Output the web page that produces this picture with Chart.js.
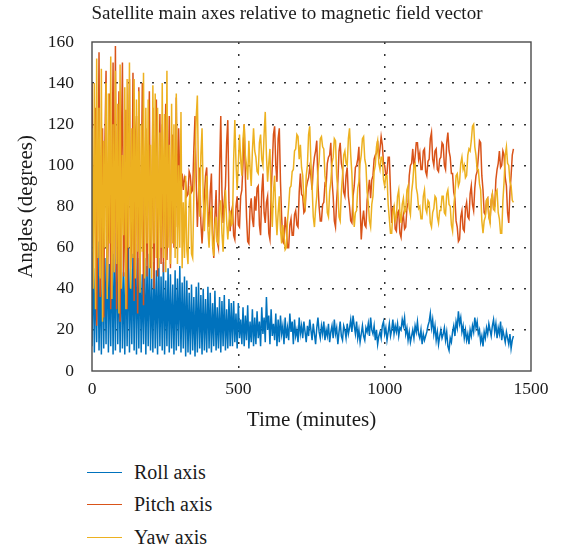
<!DOCTYPE html>
<html>
<head>
<meta charset="utf-8">
<script src="https://cdn.jsdelivr.net/npm/chart.js@4"></script>
<style>
    body { margin: 0; background: #fff; font-family: "Liberation Serif", serif; color: #1a1a1a; }
    #wrap { position: relative; width: 565px; height: 548px; }
    #chartBox { position: absolute; left: 0; top: 0; width: 565px; height: 440px; }
    #legend { position: absolute; left: 87px; top: 456px; font-size: 20px; }
    .row { height: 32.5px; display: flex; align-items: center; }
    .swatch { width: 35px; height: 0; border-top: 1.6px solid; margin-right: 12px; }
</style>
</head>
<body>
<div id="wrap">
    <div id="chartBox"><canvas id="satChart"></canvas></div>
    <div id="legend"></div>
</div>
<script>
// ===============================
// Satellite axes vs magnetic field
// ===============================

// ---------- Data (one sample every 4 minutes, 0 .. 1440) ----------

const sampleStep = 4;

const seriesNames = ["Roll axis", "Pitch axis", "Yaw axis"];
const seriesColors = ["#0072bd", "#d95319", "#edb120"];

const rollAxis = [
    12, 58, 9, 50, 14, 63, 10, 46, 8, 60, 11, 55, 13, 66, 9, 52, 12, 62, 8, 57,
    10, 67, 13, 54, 9, 61, 11, 48, 8, 59, 12, 64, 9, 50, 13, 57, 10, 62, 8, 55,
    11, 58, 9, 47, 13, 55, 8, 51, 12, 57, 10, 45, 9, 53, 11, 49, 8, 55, 12, 46,
    10, 53, 8, 44, 12, 50, 9, 47, 11, 42, 8, 49, 10, 45, 12, 51, 9, 43, 11, 46,
    7, 44, 9, 38, 8, 42, 10, 36, 7, 41, 9, 43, 11, 37, 8, 40, 10, 35, 9, 41,
    11, 38, 9, 33, 12, 39, 10, 31, 11, 36, 9, 34, 12, 37, 10, 30, 11, 35, 12, 33,
    12, 34, 14, 28, 11, 33, 16, 25, 13, 31, 12, 27, 15, 32, 11, 24, 14, 30, 12, 26,
    13, 29, 16, 24, 12, 31, 18, 26, 14, 36, 20, 27, 13, 30, 17, 23, 15, 28, 12, 25,
    14, 27, 18, 22, 13, 26, 16, 21, 15, 28, 19, 24, 13, 25, 17, 20, 14, 26, 18, 22,
    16, 24, 19, 14, 22, 17, 25, 20, 15, 23, 18, 13, 21, 26, 19, 16, 22, 18, 24, 15,
    20, 17, 23, 14, 19, 22, 16, 25, 18, 21, 13, 19, 24, 17, 15, 22, 20, 16, 23, 18,
    21, 25, 19, 27, 22, 18, 24, 16, 20, 14, 18, 22, 17, 15, 21, 19, 23, 17, 26, 20,
    18, 22, 15, 20, 13, 17, 19, 16, 22, 24, 18, 21, 15, 19, 23, 17, 20, 25, 18, 22,
    19, 23, 17, 21, 20, 25, 22, 26, 18, 21, 15, 19, 14, 17, 20, 16, 22, 19, 24, 18,
    16, 20, 13, 18, 15, 17, 19, 22, 24, 28, 21, 25, 18, 22, 15, 19, 13, 17, 20, 16,
    18, 21, 15, 19, 12, 10, 16, 14, 19, 22, 17, 24, 21, 29, 23, 26, 19, 22, 16, 20,
    15, 18, 13, 20, 17, 22, 19, 26, 21, 24, 18, 20, 14, 17, 12, 19, 16, 21, 18, 23,
    20, 17, 22, 25, 19, 23, 16, 21, 18, 24, 15, 20, 17, 14, 19, 16, 13, 18, 11, 15,
    17
];

const pitchAxis = [
    140, 62, 95, 128, 22, 80, 155, 36, 60, 118, 26, 110, 146, 40, 70, 135, 30, 92, 150, 48,
    158, 30, 88, 136, 24, 105, 150, 46, 72, 127, 30, 98, 142, 50, 66, 145, 34, 112, 124, 28,
    138, 44, 85, 140, 32, 76, 118, 46, 94, 136, 50, 70, 128, 40, 102, 132, 46, 80, 125, 52,
    120, 48, 96, 130, 54, 78, 124, 50, 88, 115, 60, 82, 133, 70, 118, 92, 86, 96, 88, 94,
    92, 85, 86, 97, 95, 87, 88, 108, 124, 93, 70, 85, 99, 72, 62, 73, 85, 95, 99, 77,
    70, 87, 96, 67, 55, 75, 88, 63, 60, 98, 124, 87, 72, 83, 90, 111, 122, 82, 68, 77,
    80, 66, 64, 80, 85, 71, 70, 85, 88, 101, 120, 95, 75, 63, 62, 79, 84, 74, 70, 85,
    78, 89, 90, 71, 66, 87, 96, 77, 72, 82, 85, 67, 64, 86, 100, 115, 119, 100, 92, 113,
    118, 92, 75, 63, 62, 75, 70, 60, 60, 71, 74, 66, 66, 76, 78, 71, 70, 87, 96, 86,
    85, 77, 78, 89, 92, 94, 99, 95, 88, 99, 104, 107, 112, 91, 80, 73, 73, 81, 82, 91,
    90, 101, 104, 105, 111, 93, 85, 73, 70, 83, 92, 107, 111, 101, 98, 87, 85, 95, 99, 85,
    80, 73, 72, 85, 90, 99, 100, 103, 109, 81, 64, 73, 78, 71, 70, 83, 88, 93, 84, 93,
    95, 103, 105, 106, 112, 103, 108, 114, 110, 101, 100, 95, 96, 104, 104, 87, 72, 79, 80, 69,
    68, 77, 78, 67, 65, 73, 76, 69, 70, 79, 82, 95, 100, 101, 108, 99, 104, 111, 111, 103,
    106, 98, 98, 107, 108, 97, 95, 102, 103, 113, 116, 103, 100, 107, 108, 98, 97, 103, 104, 111,
    110, 100, 98, 111, 116, 107, 104, 96, 96, 87, 84, 73, 70, 63, 64, 75, 78, 69, 68, 79,
    82, 75, 74, 86, 90, 81, 78, 89, 95, 97, 104, 112, 111, 95, 88, 77, 76, 83, 84, 75,
    73, 83, 86, 79, 80, 93, 98, 101, 107, 99, 100, 107, 105, 94, 90, 77, 72, 87, 95, 105,
    108
];

const yawAxis = [
    118, 40, 140, 30, 152, 55, 128, 45, 147, 24, 112, 60, 140, 35, 135, 62, 153, 35, 120, 48,
    146, 52, 130, 28, 149, 40, 105, 66, 138, 30, 142, 60, 150, 40, 118, 55, 142, 45, 132, 58,
    136, 38, 120, 58, 145, 45, 128, 62, 132, 50, 110, 45, 139, 62, 135, 55, 128, 50, 116, 60,
    140, 55, 125, 48, 146, 60, 110, 52, 130, 62, 120, 55, 135, 52, 100, 60, 126, 50, 82, 55,
    95, 59, 52, 81, 90, 57, 55, 85, 105, 123, 134, 93, 75, 105, 118, 85, 68, 83, 95, 69,
    60, 75, 80, 61, 56, 71, 75, 63, 62, 79, 83, 67, 58, 77, 88, 73, 64, 73, 78, 71,
    72, 103, 122, 101, 88, 101, 115, 103, 95, 113, 120, 105, 100, 93, 112, 99, 90, 107, 118, 107,
    104, 97, 96, 111, 115, 103, 100, 115, 126, 105, 92, 101, 108, 85, 70, 87, 95, 77, 66, 77,
    85, 69, 62, 71, 66, 59, 60, 73, 80, 89, 90, 97, 98, 107, 108, 115, 114, 103, 110, 99,
    95, 83, 80, 95, 100, 115, 119, 101, 90, 75, 70, 79, 85, 97, 102, 113, 114, 109, 108, 95,
    90, 77, 75, 87, 92, 101, 104, 113, 112, 95, 88, 75, 73, 87, 95, 105, 107, 101, 100, 113,
    118, 105, 96, 79, 70, 77, 78, 89, 92, 101, 105, 113, 114, 103, 100, 87, 82, 73, 70, 81,
    85, 97, 100, 109, 112, 101, 98, 104, 104, 93, 90, 95, 95, 81, 74, 67, 67, 77, 80, 73,
    75, 85, 88, 77, 72, 81, 84, 77, 78, 88, 90, 79, 76, 87, 92, 100, 101, 89, 86, 79,
    80, 74, 74, 85, 88, 79, 77, 83, 82, 72, 70, 77, 79, 85, 84, 75, 72, 78, 78, 85,
    85, 77, 76, 86, 88, 81, 80, 71, 68, 80, 86, 95, 96, 90, 92, 101, 104, 98, 100, 94,
    95, 105, 108, 107, 112, 119, 120, 109, 105, 98, 98, 91, 88, 73, 67, 73, 75, 83, 84, 75,
    72, 83, 86, 79, 78, 87, 88, 77, 74, 67, 67, 83, 92, 105, 109, 101, 100, 92, 90, 83,
    82
];

const timeLabels = rollAxis.map((_, i) => i * sampleStep);

const xTicks = [0, 500, 1000, 1500];
const yTicks = [0, 20, 40, 60, 80, 100, 120, 140, 160];

// ---------- Frame around the plot ----------

const framePlugin = {
    id: "frame",
    afterDraw(chart) {
        const a = chart.chartArea;
        const c = chart.ctx;
        c.save();
        c.strokeStyle = "#4a4a4a";
        c.lineWidth = 1.4;
        c.strokeRect(a.left, a.top, a.right - a.left, a.bottom - a.top);
        c.restore();
    }
};

// ---------- Chart ----------

const serif = "'Liberation Serif', serif";
const tickFont = { family: serif, size: 17.5 };
const series = [rollAxis, pitchAxis, yawAxis];

new Chart(document.getElementById("satChart"), {
    type: "line",
    data: {
        labels: timeLabels,
        datasets: series.map((values, i) => ({
            label: seriesNames[i],
            data: values,
            borderColor: seriesColors[i],
            backgroundColor: seriesColors[i],
            borderWidth: 1.5,
            pointRadius: 0,
            tension: 0,
            order: 2 - i
        }))
    },
    options: {
        responsive: true,
        maintainAspectRatio: false,
        animation: false,
        layout: { padding: { left: 9, right: 0, top: 0, bottom: 0 } },
        plugins: {
            legend: { display: false },
            tooltip: { enabled: false },
            title: {
                display: true,
                text: "Satellite main axes relative to magnetic field vector",
                color: "#1a1a1a",
                font: { family: serif, size: 19, weight: "normal" },
                padding: { top: 3, bottom: 16.2 }
            }
        },
        scales: {
            x: {
                type: "linear",
                min: 0,
                max: 1500,
                afterBuildTicks: s => { s.ticks = xTicks.map(v => ({ value: v })); },
                afterFit: s => { s.height = 69; s.paddingRight = 34; },
                ticks: { color: "#1a1a1a", font: tickFont, padding: 8, maxRotation: 0, callback: v => String(v) },
                grid: {
                    drawTicks: false,
                    color: c => (c.tick && (c.tick.value === 500 || c.tick.value === 1000)) ? "#333" : "rgba(0,0,0,0)",
                    lineWidth: 1.5
                },
                border: { display: false, dash: [2, 10] },
                title: {
                    display: true,
                    text: "Time (minutes)",
                    color: "#1a1a1a",
                    font: { family: serif, size: 21 },
                    padding: { bottom: 7 }
                }
            },
            y: {
                min: 0,
                max: 160,
                afterBuildTicks: s => { s.ticks = yTicks.map(v => ({ value: v })); },
                afterFit: s => { s.width = 83; },
                ticks: { color: "#1a1a1a", font: tickFont, padding: 18, callback: v => String(v) },
                grid: {
                    drawTicks: false,
                    color: c => (c.tick && c.tick.value > 0 && c.tick.value < 160) ? "#333" : "rgba(0,0,0,0)",
                    lineWidth: 1.5
                },
                border: { display: false, dash: [2, 10] },
                title: {
                    display: true,
                    text: "Angles (degrees)",
                    color: "#1a1a1a",
                    font: { family: serif, size: 21 },
                    padding: { top: 5 }
                }
            }
        }
    },
    plugins: [framePlugin]
});

// ---------- Legend ----------

const legendBox = document.getElementById("legend");

seriesNames.forEach((name, i) => {
    const row = document.createElement("div");
    row.className = "row";
    row.innerHTML = '<span class="swatch" style="border-color:' + seriesColors[i] + '"></span>' + name;
    legendBox.appendChild(row);
});
</script>
</body>
</html>
